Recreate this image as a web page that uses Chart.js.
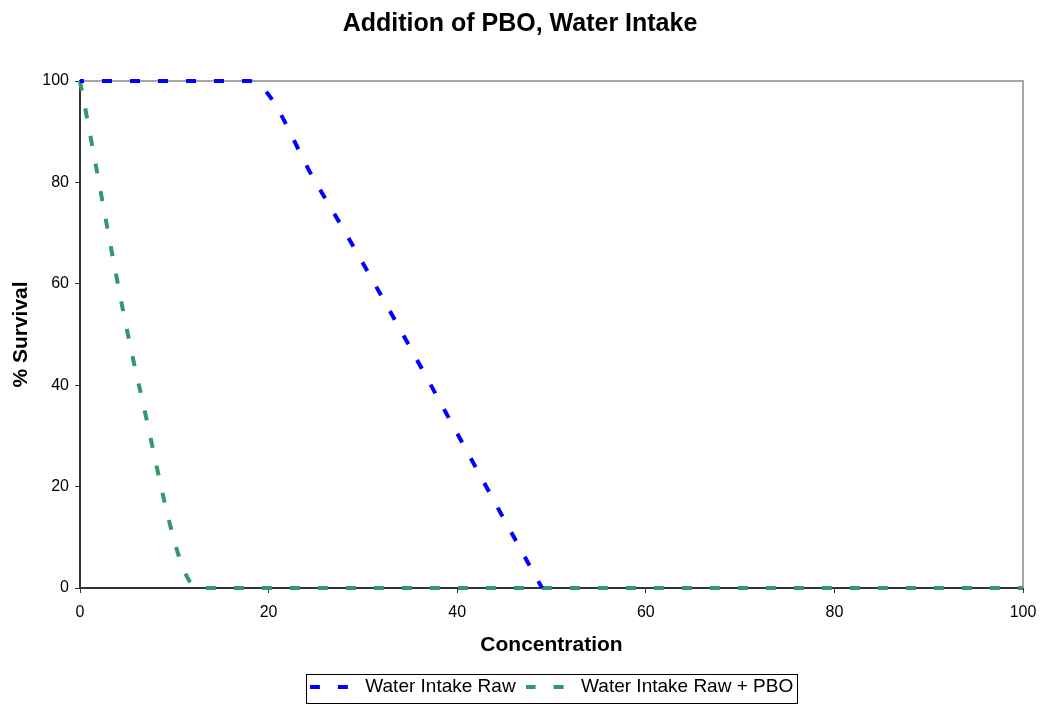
<!DOCTYPE html>
<html>
<head>
<meta charset="utf-8">
<script src="https://cdn.jsdelivr.net/npm/chart.js@4"></script>
<style>
  html, body { margin: 0; padding: 0; background: #ffffff; }
  #wrap { width: 1040px; height: 706px; }
</style>
</head>
<body>
<div id="wrap"><canvas id="c" width="1040" height="706"></canvas></div>
<script>
// ---- data ----
const chartTitle = "Addition of PBO, Water Intake";
const xTitle = "Concentration";
const yTitle = "% Survival";
const seriesNames = ["Water Intake Raw", "Water Intake Raw + PBO"];
const seriesColors = ["#0000ff", "#339966"];

const rawConc = [0, 6.25, 12.5, 18, 25, 49];
const rawSurvival = [100, 100, 100, 100, 80, 0];

const pboConc = [0, 6.25, 12.5, 25, 50, 100];
const pboSurvival = [100, 40, 0, 0, 0, 0];

const xTicks = [0, 20, 40, 60, 80, 100];
const yTicks = [0, 20, 40, 60, 80, 100];

// ---- build ----
const toPoints = (xs, ys) => xs.map((x, i) => ({ x: x, y: ys[i] }));
const FONT = "'Liberation Sans', Arial, Helvetica, sans-serif";
const DASH = [10, 18];

// dashed legend sample drawn into a small canvas used as legend point style
function dashSample(color) {
  const c = document.createElement('canvas');
  c.width = 46; c.height = 4;
  const g = c.getContext('2d');
  g.strokeStyle = color;
  g.lineWidth = 4;
  g.setLineDash(DASH);
  g.beginPath();
  g.moveTo(0, 2);
  g.lineTo(46, 2);
  g.stroke();
  return c;
}
const samples = seriesColors.map(dashSample);

const framePlugin = {
  id: 'frame',
  beforeDatasetsDraw(chart) {
    const { ctx, chartArea: a } = chart;
    ctx.save();
    ctx.strokeStyle = '#a6a6a6';
    ctx.lineWidth = 2;
    ctx.beginPath();
    ctx.moveTo(a.left, a.top);
    ctx.lineTo(a.right, a.top);
    ctx.lineTo(a.right, a.bottom);
    ctx.stroke();
    ctx.restore();
  }
};

const legendBorderPlugin = {
  id: 'legendBorder',
  afterDraw(chart) {
    const lg = chart.legend;
    if (!lg || !lg.legendHitBoxes || !lg.legendHitBoxes.length) return;
    const hb = lg.legendHitBoxes;
    const left = hb[0].left - 4;
    const last = hb[hb.length - 1];
    const right = last.left + last.width + 4;
    const top = hb[0].top - 3;
    const bottom = hb[0].top + hb[0].height + 7;
    const ctx = chart.ctx;
    ctx.save();
    ctx.strokeStyle = '#000000';
    ctx.lineWidth = 1;
    ctx.setLineDash([]);
    ctx.strokeRect(Math.round(left) + 0.5, Math.round(top) + 0.5, Math.round(right - left), Math.round(bottom - top));
    ctx.restore();
  }
};

function makeDataset(i, xs, ys, dashOffset) {
  return {
    label: seriesNames[i],
    data: toPoints(xs, ys),
    borderColor: seriesColors[i],
    backgroundColor: seriesColors[i],
    borderWidth: 4,
    borderDash: DASH,
    borderDashOffset: dashOffset,
    borderCapStyle: 'butt',
    pointRadius: 0,
    fill: false,
    clip: false,
    cubicInterpolationMode: 'monotone'
  };
}

new Chart(document.getElementById('c'), {
  type: 'line',
  data: {
    datasets: [
      makeDataset(0, rawConc, rawSurvival, 6),
      makeDataset(1, pboConc, pboSurvival, 0)
    ]
  },
  options: {
    responsive: false,
    animation: false,
    devicePixelRatio: 1,
    layout: { padding: { top: 0, right: 17, bottom: 0, left: 17 } },
    plugins: {
      title: {
        display: true,
        text: chartTitle,
        color: '#000000',
        font: { family: FONT, size: 25, weight: 'bold' },
        padding: { top: 9.5, bottom: 41.5 }
      },
      legend: {
        display: true,
        position: 'bottom',
        fullSize: false,
        labels: {
          color: '#000000',
          font: { family: FONT, size: 19 },
          usePointStyle: true,
          pointStyleWidth: 46,
          padding: 10,
          generateLabels(chart) {
            const items = Chart.defaults.plugins.legend.labels.generateLabels(chart);
            items.forEach((it, i) => { it.pointStyle = samples[i]; });
            return items;
          }
        }
      },
      tooltip: { enabled: false }
    },
    scales: {
      x: {
        type: 'linear',
        min: 0,
        max: 100,
        afterBuildTicks(scale) { scale.ticks = xTicks.map(v => ({ value: v })); },
        afterFit(scale) {
          scale.height = 79;
          scale.paddingLeft = 0;
          scale.paddingRight = 0;
        },
        ticks: {
          color: '#000000',
          font: { family: FONT, size: 16 },
          padding: 10,
          maxRotation: 0
        },
        grid: {
          display: true,
          drawOnChartArea: false,
          drawTicks: true,
          tickLength: 5,
          color: '#333333',
          lineWidth: 1
        },
        border: { display: true, color: '#333333', width: 2 },
        title: {
          display: true,
          text: xTitle,
          color: '#000000',
          font: { family: FONT, size: 21, weight: 'bold' },
          padding: { top: 0, bottom: 9 }
        }
      },
      y: {
        type: 'linear',
        min: 0,
        max: 100,
        afterBuildTicks(scale) { scale.ticks = yTicks.map(v => ({ value: v })); },
        afterFit(scale) {
          scale.width = 63;
          scale.paddingTop = 0;
          scale.paddingBottom = 0;
        },
        ticks: {
          color: '#000000',
          font: { family: FONT, size: 16 },
          padding: 6
        },
        grid: {
          display: true,
          drawOnChartArea: false,
          drawTicks: true,
          tickLength: 5,
          color: '#333333',
          lineWidth: 1
        },
        border: { display: true, color: '#333333', width: 2 },
        title: {
          display: true,
          text: yTitle,
          color: '#000000',
          font: { family: FONT, size: 21, weight: 'bold' },
          padding: { top: -8.6, bottom: 0 }
        }
      }
    }
  },
  plugins: [framePlugin, legendBorderPlugin]
});
</script>
</body>
</html>
